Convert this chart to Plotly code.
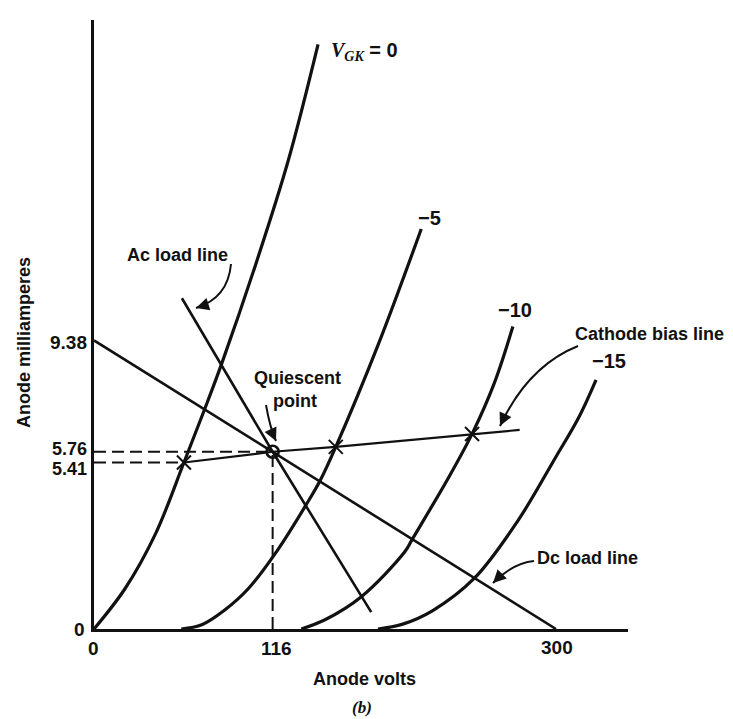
import plotly.graph_objects as go

# ---------------- data (anode volts, anode milliamperes) ----------------
vgk0_volts = [0, 20, 40, 58.4, 71.9, 83.1, 105, 126, 145.5]
vgk0_ma = [0, 1.3, 3.1, 5.41, 7.15, 8.65, 11.85, 15.2, 19.0]

vgk5_volts = [56.7, 70, 84.9, 100, 119, 137.9, 146.6, 157, 185, 212.5]
vgk5_ma = [0, 0.14, 0.62, 1.3, 2.55, 4.05, 4.8, 5.92, 9.3, 13.0]

vgk10_volts = [134.6, 150, 173.6, 201.8, 206.7, 230, 245.5, 260, 272]
vgk10_ma = [0, 0.3, 1.05, 2.51, 2.92, 4.9, 6.34, 8.0, 9.83]

vgk15_volts = [184.4, 200, 220, 247, 275, 300, 315, 326]
vgk15_ma = [0, 0.15, 0.6, 1.65, 3.5, 5.6, 6.9, 8.1]

dc_volts = [0, 300]
dc_ma = [9.38, 0]

ac_volts = [57.1, 116, 180]
ac_ma = [10.75, 5.76, 0.55]

bias_volts = [58.4, 116, 157, 245.5, 276.4]
bias_ma = [5.41, 5.76, 5.92, 6.34, 6.47]

cross_volts = [58.4, 157, 245.5]
cross_ma = [5.41, 5.92, 6.34]

q_volts = 116
q_ma = 5.76
low_ma = 5.41
low_volts = 58.4

x_tick_text = ["0", "116", "300"]
y_tick_text = ["0", "9.38", "5.76", "5.41"]

# ---------------- geometry ----------------
W, H = 733, 719
ML, MR, MT, MB = 86, 113, 12, 98
PW, PH = W - ML - MR, H - MT - MB
XMAX = PW / 1.54
YMAX = PH / 30.77


def px(x):
    return (x - ML) / PW


def py(y):
    return (H - MB - y) / PH


BLACK = "#111111"
FONT = "Liberation Sans"

fig = go.Figure()

curve_line = dict(color=BLACK, width=3.2, shape="spline", smoothing=1.0)
for xs, ys in [(vgk0_volts, vgk0_ma), (vgk5_volts, vgk5_ma),
               (vgk10_volts, vgk10_ma), (vgk15_volts, vgk15_ma)]:
    fig.add_trace(go.Scatter(x=xs, y=ys, mode="lines", line=curve_line,
                             hoverinfo="skip", showlegend=False))

for xs, ys, w in [(dc_volts, dc_ma, 2.6), (ac_volts, ac_ma, 2.6), (bias_volts, bias_ma, 2.2)]:
    fig.add_trace(go.Scatter(x=xs, y=ys, mode="lines", line=dict(color=BLACK, width=w),
                             showlegend=False, hoverinfo="skip"))

# dashed guide lines
dash = dict(color=BLACK, width=2, dash="12px,6px")
for xs, ys in [([0, q_volts], [q_ma, q_ma]), ([0, low_volts], [low_ma, low_ma]),
               ([q_volts, q_volts], [0, q_ma])]:
    fig.add_trace(go.Scatter(x=xs, y=ys, mode="lines", line=dash,
                             showlegend=False, hoverinfo="skip"))

fig.add_trace(go.Scatter(x=cross_volts, y=cross_ma, mode="markers",
                         marker=dict(symbol="x-thin", size=14, line=dict(color=BLACK, width=2)),
                         showlegend=False, hoverinfo="skip"))
fig.add_trace(go.Scatter(x=[q_volts], y=[q_ma], mode="markers",
                         marker=dict(symbol="circle-open", size=12, color=BLACK,
                                     line=dict(color=BLACK, width=2.6)),
                         showlegend=False, hoverinfo="skip"))

ann = []


def label(text, x, y, size=19, xanchor="center", bold=True, family=FONT, angle=0, italic=False):
    ann.append(dict(x=px(x), y=py(y), xref="paper", yref="paper", text=text, showarrow=False,
                    xanchor=xanchor, yanchor="middle", textangle=angle,
                    font=dict(family=family, size=size, color=BLACK,
                              weight="bold" if bold else "normal",
                              style="italic" if italic else "normal")))


# tick labels
label(y_tick_text[0], 71, 621)
label(y_tick_text[1], 81, 334, xanchor="right")
label(y_tick_text[2], 81, 441, size=18, xanchor="right")
label(y_tick_text[3], 81, 461, size=18, xanchor="right")
label(x_tick_text[0], 85, 640)
label(x_tick_text[1], 268, 640)
label(x_tick_text[2], 549, 639)

# axis titles
label("Anode milliamperes", 16, 335, size=18, angle=-90)
label("Anode volts", 356, 671, size=18)
label("(b)", 354, 699, size=17, family="Liberation Serif", italic=True)

# curve labels
label("<i>V</i><sub><i>GK</i></sub><span style=\"font-family:'Liberation Sans'\"> = 0</span>",
      321, 43, size=20, xanchor="left", family="Liberation Serif")
label("−5", 421, 210, size=20)
label("−10", 507, 302, size=20)
label("−15", 601, 353, size=20)
label("Cathode bias line", 565, 326, size=18, xanchor="left")
label("Dc load line", 527, 550, size=18, xanchor="left")
label("Ac load line", 169, 247, size=18)
label("Quiescent", 289, 370, size=18)
label("point", 287, 393, size=18)

# curved arrows: body as quadratic path, head as annotation arrow
shapes = []
arrows = [
    ((223, 256), (220, 290), (188, 300)),
    ((258, 397), (262, 420), (268, 433)),
    ((570, 338), (520, 358), (492, 418)),
    ((526, 553), (505, 555), (485, 575)),
]
for (sx, sy), (cx, cy), (tx, ty) in arrows:
    shapes.append(dict(type="path", xref="paper", yref="paper",
                       path=f"M {px(sx)},{py(sy)} Q {px(cx)},{py(cy)} {px(tx)},{py(ty)}",
                       line=dict(color=BLACK, width=2)))
    vx, vy = cx - tx, cy - ty
    n = (vx ** 2 + vy ** 2) ** 0.5
    ann.append(dict(x=px(tx), y=py(ty), xref="paper", yref="paper", text="", showarrow=True,
                    ax=12 * vx / n, ay=12 * vy / n, arrowhead=2, arrowsize=1.3,
                    arrowwidth=2, arrowcolor=BLACK, standoff=0))

fig.update_layout(
    width=W, height=H,
    margin=dict(l=ML, r=MR, t=MT, b=MB),
    paper_bgcolor="white", plot_bgcolor="white",
    showlegend=False,
    annotations=ann, shapes=shapes,
    xaxis=dict(range=[0, XMAX], showgrid=False, zeroline=False, showticklabels=False,
               ticks="", showline=True, linecolor=BLACK, linewidth=2.6),
    yaxis=dict(range=[0, YMAX], showgrid=False, zeroline=False, showticklabels=False,
               ticks="", showline=True, linecolor=BLACK, linewidth=2.6),
)

fig.write_html("out.html")
